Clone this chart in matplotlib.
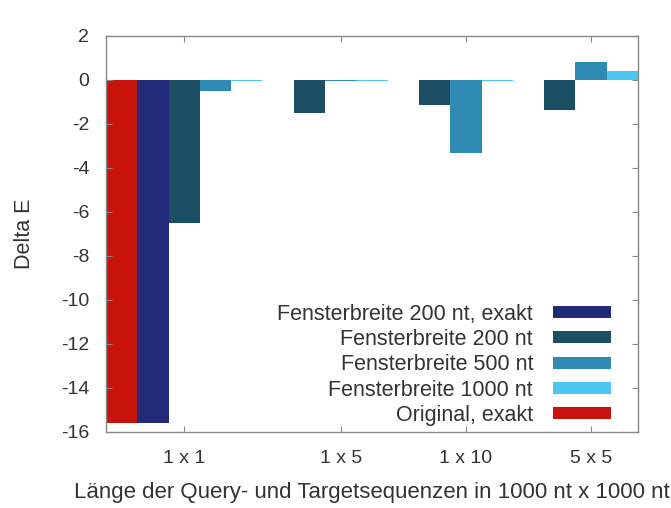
import numpy as np
import matplotlib
matplotlib.use("Agg")
import matplotlib.pyplot as plt

plt.rcParams['font.family'] = ['Liberation Sans', 'DejaVu Sans']
plt.rcParams['axes.unicode_minus'] = False

# data
categories = ['1 x 1', '1 x 5', '1 x 10', '5 x 5']
original_exakt = [-15.6]            # only measured for 1 x 1
fb200_exakt = [-15.6]
fb200 = [-6.5, -1.5, -1.15, -1.36]
fb500 = [-0.5, -0.05, -3.33, 0.80]
fb1000 = [-0.05, -0.05, -0.05, 0.42]

labels = ['Fensterbreite 200 nt, exakt', 'Fensterbreite 200 nt',
          'Fensterbreite 500 nt', 'Fensterbreite 1000 nt', 'Original, exakt']
colors = {'red': '#c8120c', 'navy': '#202a78', 'teal': '#1d4f64',
          'mid': '#2f8ab4', 'light': '#4cc6f0'}

# slot layout (one slot per bar), first group has five bars
group_start = np.array([2, 6, 10, 14])   # slot of the 200 nt bar
ticks = group_start + 0.5 + np.array([0, 1, 1, 1])

fig = plt.figure(figsize=(6.71, 5.08), dpi=100)
ax = fig.add_axes([106 / 671, 1 - 432 / 508, (638 - 106) / 671, (432 - 36) / 508])

w = 1.0
ax.bar([0.5], original_exakt, w, color=colors['red'], label=labels[4])
ax.bar([1.5], fb200_exakt, w, color=colors['navy'], label=labels[0])
ax.bar(group_start + 0.5, fb200, w, color=colors['teal'], label=labels[1])
ax.bar(group_start + 1.5, fb500, w, color=colors['mid'], label=labels[2])
ax.bar(group_start + 2.5, fb1000, w, color=colors['light'], label=labels[3])

ax.set_xlim(0, 17)
ax.set_ylim(-16, 2)
ax.set_yticks(np.arange(-16, 3, 2))
ax.set_xticks(ticks)
ax.set_xticklabels(categories)
ax.tick_params(direction='in', length=4, width=0.8, color='#888888',
               top=True, right=True, labelsize=14, labelcolor='#333333')
ax.tick_params(axis='y', pad=12)
ax.tick_params(axis='x', pad=13)
for s in ax.spines.values():
    s.set_color('#888888')
    s.set_linewidth(1)

ax.set_ylabel('Delta E', fontsize=15.5, labelpad=19, color='#333333')
ax.set_xlabel('Länge der Query- und Targetsequenzen in 1000 nt x 1000 nt',
              fontsize=16, labelpad=11, color='#333333')

h, l = ax.get_legend_handles_labels()
order = [1, 2, 3, 4, 0]
leg = ax.legend([h[i] for i in order], [l[i] for i in order],
                loc='lower right', bbox_to_anchor=(611 / 671, 1 - 426 / 508),
                bbox_transform=fig.transFigure, frameon=False, markerfirst=False,
                fontsize=15.5, handlelength=2.7, handleheight=0.48,
                labelspacing=0.2, handletextpad=0.92, borderaxespad=0,
                borderpad=0)
for t in leg.get_texts():
    t.set_ha('right')
    t.set_color('#333333')

fig.savefig('out.png', dpi=100)
